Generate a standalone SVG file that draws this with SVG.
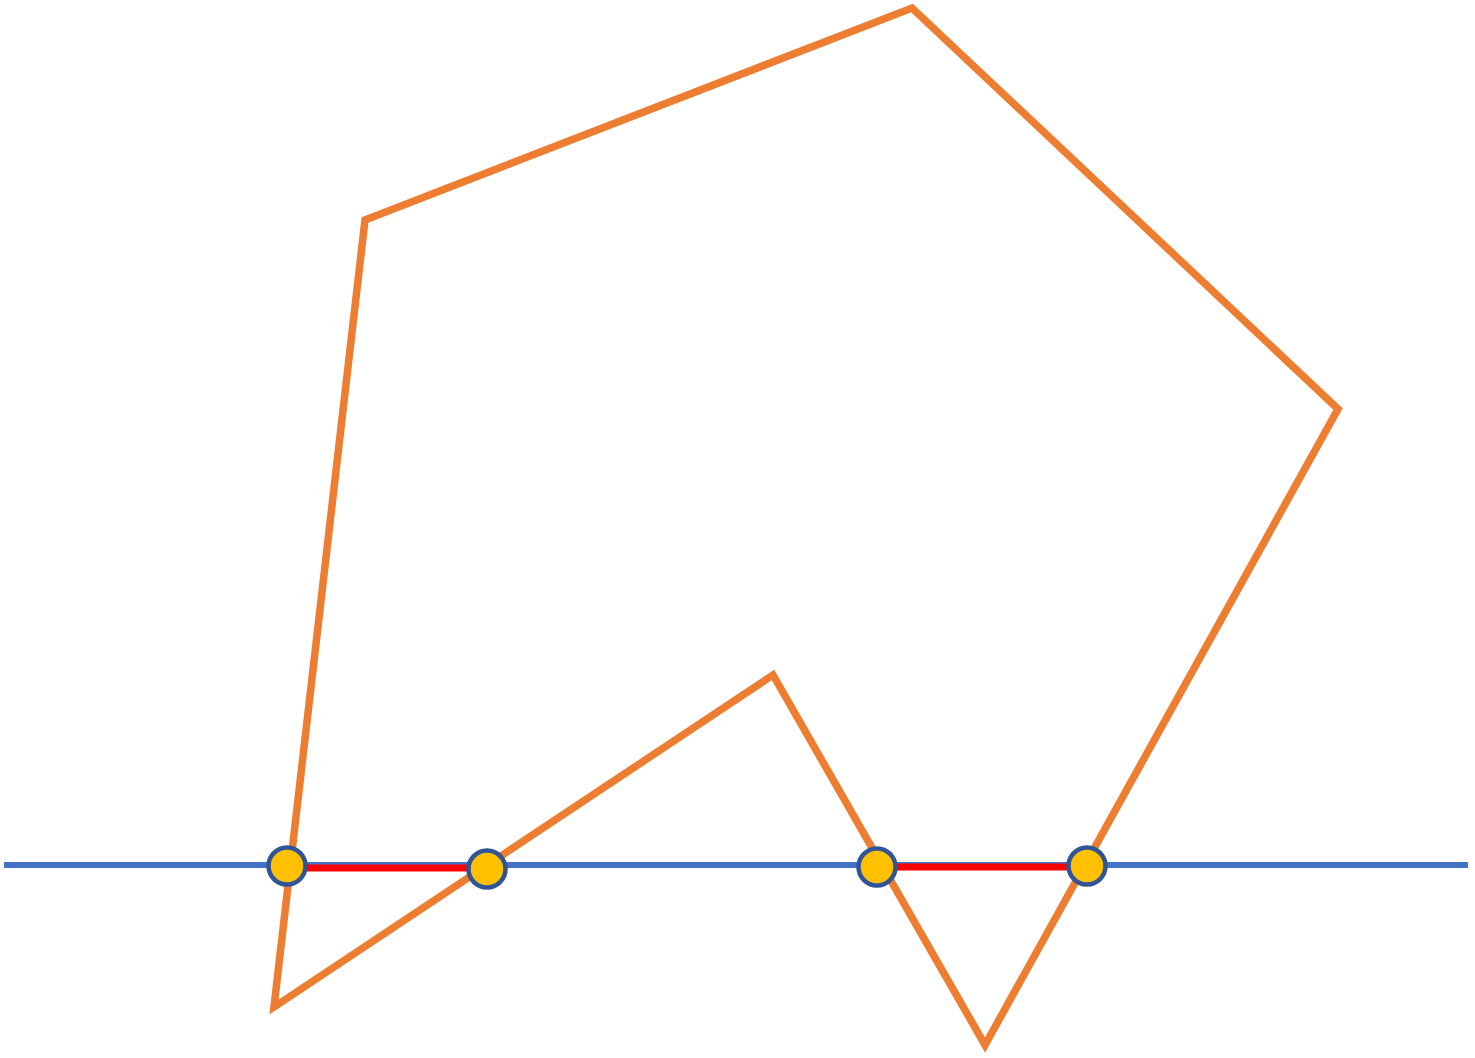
<svg xmlns="http://www.w3.org/2000/svg" width="1475" height="1058" viewBox="0 0 1475 1058">
<style>
.poly{fill:none;stroke:#ED7D31;stroke-width:7.5;stroke-linejoin:miter;stroke-miterlimit:10}
.axis{stroke:#4472C4;stroke-width:6}
.seg{stroke:#FF0000;stroke-width:7}
.pt{fill:#FFC000;stroke:#2F5597;stroke-width:4.5}
</style>
<rect width="1475" height="1058" fill="#FFFFFF"/>
<g id="polygon">
<polygon class="poly" points="365,220 912,8 1338,409 985,1045 773,675 274,1007"/>
</g>
<g id="connectors">
<line class="axis" x1="4" y1="865" x2="1468" y2="865"/>
<line class="seg" x1="287" y1="868" x2="487" y2="868"/>
<line class="seg" x1="877" y1="867" x2="1087" y2="867"/>
</g>
<g id="p1"><circle class="pt" cx="287" cy="866" r="18.5"/></g>
<g id="p2"><circle class="pt" cx="487" cy="869" r="18.5"/></g>
<g id="p3"><circle class="pt" cx="877" cy="867" r="18.5"/></g>
<g id="p4"><circle class="pt" cx="1087" cy="866" r="18.5"/></g>
</svg>
